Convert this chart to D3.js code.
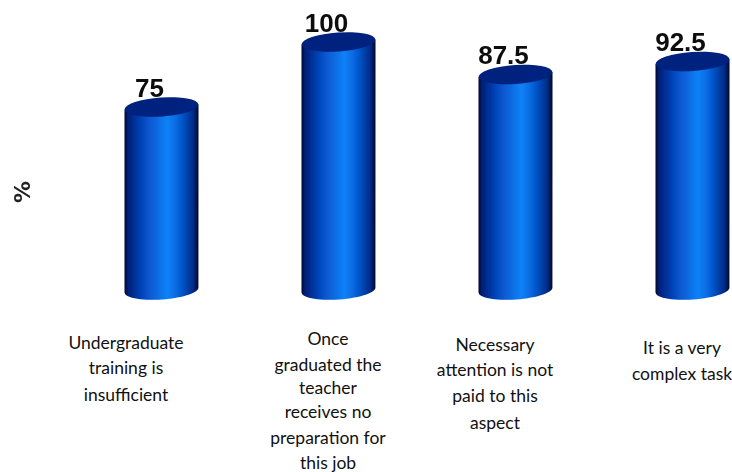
<!DOCTYPE html>
<html><head><meta charset="utf-8">
<script src="https://cdn.jsdelivr.net/npm/d3@7/dist/d3.min.js"></script>
<style>html,body{margin:0;padding:0;background:#fff}svg{display:block}</style>
</head><body><div id="c"></div>
<script>
const categories = ["Undergraduate training is insufficient","Once graduated the teacher receives no preparation for this job","Necessary attention is not paid to this aspect","It is a very complex task"];
const values = [75,100,87.5,92.5];
const valueLabels = ["75","100","87.5","92.5"];
const labelLines = [
  ["Undergraduate","training is","insufficient"],
  ["Once","graduated the","teacher","receives no","preparation for","this job"],
  ["Necessary","attention is not","paid to this","aspect"],
  ["It is a very","complex task"]
];
const axisTitle = "%";

const W=732,H=472;
const svg=d3.select("#c").append("svg").attr("width",W).attr("height",H);
const x=d3.scaleBand().domain(categories).range([73,781]).padding(0);
const barW=74;
const cx=c=>x(c)+x.bandwidth()/2;
const y=d3.scaleLinear().domain([75,100]).range([107,42]);
const baseY=290;

const defs=svg.append("defs");
const g=defs.append("linearGradient").attr("id","cyl").attr("x1",0).attr("x2",1).attr("y1",0).attr("y2",0);
[[0,"#000a30"],[0.05,"#001f78"],[0.25,"#0648c0"],[0.58,"#0a82f8"],[0.74,"#0660d8"],[0.93,"#022a88"],[1,"#000828"]]
 .forEach(s=>g.append("stop").attr("offset",s[0]).attr("stop-color",s[1]));
defs.append("filter").attr("id","soft").append("feGaussianBlur").attr("stdDeviation",0.5);
defs.append("filter").attr("id","softT").append("feGaussianBlur").attr("stdDeviation",0.4);

const bars=svg.append("g").attr("filter","url(#soft)").selectAll("g").data(categories).join("g");
const tilt=-4, rx=barW/2, ry=9.5;
bars.each(function(c,i){
  const s=d3.select(this), m=cx(c), top=y(values[i]);
  const k=Math.sin(tilt*Math.PI/180)*rx;
  const p=d3.path();
  p.moveTo(m-rx,top-k);
  p.lineTo(m-rx,baseY-k);
  const n=30;
  const t=tilt*Math.PI/180;
  for(let a=0;a<=n;a++){
    const th=Math.PI-a/n*Math.PI;
    const ex=rx*Math.cos(th), ey=ry*Math.sin(th);
    p.lineTo(m+ex*Math.cos(t)-ey*Math.sin(t),baseY+ex*Math.sin(t)+ey*Math.cos(t));
  }
  p.lineTo(m+rx,top+k);
  p.closePath();
  s.append("path").attr("d",p.toString()).attr("fill","url(#cyl)");
  s.append("ellipse").attr("cx",m).attr("cy",top).attr("rx",rx).attr("ry",ry)
   .attr("transform",`rotate(${tilt} ${m} ${top})`).attr("fill","#00217f");
});

svg.append("g").attr("filter","url(#softT)").selectAll("text").data(categories).join("text")
  .attr("x",c=>cx(c)-12).attr("y",(c,i)=>y(values[i])-10.5)
  .attr("text-anchor","middle").attr("font-family","'Liberation Sans',sans-serif")
  .attr("font-size",26).attr("font-weight",700).attr("fill","#111")
  .text((c,i)=>valueLabels[i]);

const lineY=[[343,368,395],[339,365,388,412,438,463],[345,370,396,423],[348,374]];
const labelX=[126,328,495,682];
categories.forEach((c,i)=>{
  const t=svg.append("g");
  labelLines[i].forEach((l,j)=>{
    t.append("text").attr("x",labelX[i]).attr("y",lineY[i][j]).attr("dy","0.35em")
     .attr("text-anchor","middle").attr("font-family","Lato,sans-serif")
     .attr("font-size",17.5).attr("font-weight",400).attr("fill","#111").text(l);
  });
});

svg.append("text").attr("transform","translate(22,192) rotate(-90)")
  .attr("text-anchor","middle").attr("dy","0.35em").attr("font-family","'DejaVu Sans',sans-serif")
  .attr("font-size",22).attr("font-weight",700).attr("fill","#222").attr("filter","url(#softT)").text(axisTitle);
</script></body></html>
